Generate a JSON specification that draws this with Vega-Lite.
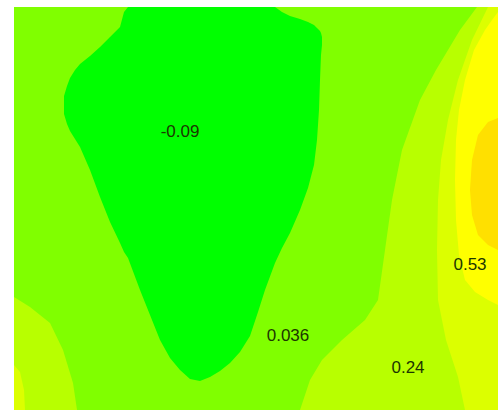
{
  "$schema": "https://vega.github.io/schema/vega-lite/v6.json",
  "width": 484,
  "height": 403,
  "autosize": "none",
  "padding": {"left": 14, "top": 7, "right": 0, "bottom": 5},
  "background": "white",
  "config": {"view": {"stroke": null}},
  "datasets": {
    "bg": [{"band": "b", "x": 0, "x2": 484, "y": 0, "y2": 403}],
    "c_right": [
      {"band": "c", "y": 403, "x": 463, "x2": 484},
      {"band": "c", "y": 380, "x": 446, "x2": 484},
      {"band": "c", "y": 360, "x": 434, "x2": 484},
      {"band": "c", "y": 340, "x": 422, "x2": 484},
      {"band": "c", "y": 310, "x": 406, "x2": 484},
      {"band": "c", "y": 260, "x": 388, "x2": 484},
      {"band": "c", "y": 210, "x": 378, "x2": 484},
      {"band": "c", "y": 160, "x": 371, "x2": 484},
      {"band": "c", "y": 110, "x": 364, "x2": 484},
      {"band": "c", "y": 90, "x": 351, "x2": 484},
      {"band": "c", "y": 70, "x": 328, "x2": 484},
      {"band": "c", "y": 50, "x": 308, "x2": 484},
      {"band": "c", "y": 30, "x": 296, "x2": 484},
      {"band": "c", "y": 0, "x": 286, "x2": 484}
    ],
    "c_left": [
      {"band": "c", "x": 0, "y": 113, "y2": 0},
      {"band": "c", "x": 16, "y": 103, "y2": 0},
      {"band": "c", "x": 36, "y": 87, "y2": 0},
      {"band": "c", "x": 49, "y": 60, "y2": 0},
      {"band": "c", "x": 59, "y": 27, "y2": 0},
      {"band": "c", "x": 63, "y": 0, "y2": 0}
    ],
    "d_left": [
      {"band": "d", "x": 0, "y": 45, "y2": 0},
      {"band": "d", "x": 6, "y": 38, "y2": 0},
      {"band": "d", "x": 10, "y": 20, "y2": 0},
      {"band": "d", "x": 11, "y": 0, "y2": 0}
    ],
    "d_right": [
      {"band": "d", "y": 403, "x": 474, "x2": 484},
      {"band": "d", "y": 370, "x": 458, "x2": 484},
      {"band": "d", "y": 330, "x": 444, "x2": 484},
      {"band": "d", "y": 290, "x": 434, "x2": 484},
      {"band": "d", "y": 250, "x": 427, "x2": 484},
      {"band": "d", "y": 210, "x": 424, "x2": 484},
      {"band": "d", "y": 160, "x": 423, "x2": 484},
      {"band": "d", "y": 110, "x": 424, "x2": 484},
      {"band": "d", "y": 70, "x": 432, "x2": 484},
      {"band": "d", "y": 33, "x": 444, "x2": 484},
      {"band": "d", "y": 0, "x": 451, "x2": 484}
    ],
    "e_right": [
      {"band": "e", "y": 398, "x": 484, "x2": 484},
      {"band": "e", "y": 390, "x": 478, "x2": 484},
      {"band": "e", "y": 380, "x": 471, "x2": 484},
      {"band": "e", "y": 360, "x": 460, "x2": 484},
      {"band": "e", "y": 330, "x": 451, "x2": 484},
      {"band": "e", "y": 300, "x": 445, "x2": 484},
      {"band": "e", "y": 270, "x": 442, "x2": 484},
      {"band": "e", "y": 230, "x": 441, "x2": 484},
      {"band": "e", "y": 190, "x": 442, "x2": 484},
      {"band": "e", "y": 155, "x": 445, "x2": 484},
      {"band": "e", "y": 130, "x": 451, "x2": 484},
      {"band": "e", "y": 118, "x": 461, "x2": 484},
      {"band": "e", "y": 110, "x": 474, "x2": 484},
      {"band": "e", "y": 105, "x": 484, "x2": 484}
    ],
    "f_core": [
      {"band": "f", "y": 292, "x": 484, "x2": 484},
      {"band": "f", "y": 288, "x": 474, "x2": 484},
      {"band": "f", "y": 275, "x": 464, "x2": 484},
      {"band": "f", "y": 250, "x": 458, "x2": 484},
      {"band": "f", "y": 220, "x": 456, "x2": 484},
      {"band": "f", "y": 195, "x": 458, "x2": 484},
      {"band": "f", "y": 175, "x": 464, "x2": 484},
      {"band": "f", "y": 165, "x": 474, "x2": 484},
      {"band": "f", "y": 160, "x": 484, "x2": 484}
    ],
    "a_blob": [
      {"band": "a", "x": 50, "y": 314, "y2": 296},
      {"band": "a", "x": 53, "y": 324, "y2": 286},
      {"band": "a", "x": 56, "y": 332, "y2": 279},
      {"band": "a", "x": 61, "y": 340, "y2": 271},
      {"band": "a", "x": 66, "y": 346, "y2": 263},
      {"band": "a", "x": 76, "y": 354, "y2": 240},
      {"band": "a", "x": 86, "y": 363, "y2": 213},
      {"band": "a", "x": 96, "y": 373, "y2": 188},
      {"band": "a", "x": 106, "y": 383, "y2": 167},
      {"band": "a", "x": 110, "y": 398, "y2": 158},
      {"band": "a", "x": 114, "y": 403, "y2": 152},
      {"band": "a", "x": 126, "y": 403, "y2": 120},
      {"band": "a", "x": 136, "y": 403, "y2": 95},
      {"band": "a", "x": 146, "y": 403, "y2": 70},
      {"band": "a", "x": 156, "y": 403, "y2": 52},
      {"band": "a", "x": 166, "y": 403, "y2": 40},
      {"band": "a", "x": 176, "y": 403, "y2": 31},
      {"band": "a", "x": 186, "y": 403, "y2": 29},
      {"band": "a", "x": 196, "y": 403, "y2": 33},
      {"band": "a", "x": 206, "y": 403, "y2": 39},
      {"band": "a", "x": 216, "y": 403, "y2": 47},
      {"band": "a", "x": 226, "y": 403, "y2": 58},
      {"band": "a", "x": 236, "y": 403, "y2": 74},
      {"band": "a", "x": 244, "y": 403, "y2": 98},
      {"band": "a", "x": 251, "y": 403, "y2": 120},
      {"band": "a", "x": 261, "y": 403, "y2": 147},
      {"band": "a", "x": 268, "y": 398, "y2": 162},
      {"band": "a", "x": 276, "y": 394, "y2": 177},
      {"band": "a", "x": 286, "y": 391, "y2": 200},
      {"band": "a", "x": 294, "y": 388, "y2": 222},
      {"band": "a", "x": 300, "y": 385, "y2": 245},
      {"band": "a", "x": 303, "y": 382, "y2": 270},
      {"band": "a", "x": 305, "y": 380, "y2": 300},
      {"band": "a", "x": 306, "y": 379, "y2": 330},
      {"band": "a", "x": 307, "y": 377, "y2": 355},
      {"band": "a", "x": 308, "y": 373, "y2": 365}
    ],
    "labels": [
      {"label": "-0.09", "x": 166, "y": 278},
      {"label": "0.036", "x": 274, "y": 74},
      {"label": "0.24", "x": 394, "y": 42},
      {"label": "0.53", "x": 456, "y": 145}
    ]
  },
  "layer": [
    {
      "data": {"name": "bg"},
      "mark": {"type": "rect"},
      "encoding": {
        "x": {"field": "x", "type": "quantitative", "axis": null, "scale": {"domain": [0, 484], "nice": false, "zero": false}},
        "x2": {"field": "x2"},
        "y": {"field": "y", "type": "quantitative", "axis": null, "scale": {"domain": [0, 403], "nice": false, "zero": false}},
        "y2": {"field": "y2"},
        "color": {"field": "band", "type": "nominal", "legend": null,
          "scale": {"domain": ["a", "b", "c", "d", "e", "f"], "range": ["#00ff00", "#80ff00", "#b8ff00", "#dcff00", "#ffff00", "#ffe000"]}}
      }
    },
    {
      "data": {"name": "c_right"},
      "mark": {"type": "area", "orient": "horizontal"},
      "encoding": {
        "y": {"field": "y", "type": "quantitative", "axis": null},
        "x": {"field": "x", "type": "quantitative", "axis": null},
        "x2": {"field": "x2"},
        "color": {"field": "band", "type": "nominal", "legend": null}
      }
    },
    {
      "data": {"name": "c_left"},
      "mark": {"type": "area", "orient": "vertical"},
      "encoding": {
        "x": {"field": "x", "type": "quantitative", "axis": null},
        "y": {"field": "y", "type": "quantitative", "axis": null},
        "y2": {"field": "y2"},
        "color": {"field": "band", "type": "nominal", "legend": null}
      }
    },
    {
      "data": {"name": "d_left"},
      "mark": {"type": "area", "orient": "vertical"},
      "encoding": {
        "x": {"field": "x", "type": "quantitative", "axis": null},
        "y": {"field": "y", "type": "quantitative", "axis": null},
        "y2": {"field": "y2"},
        "color": {"field": "band", "type": "nominal", "legend": null}
      }
    },
    {
      "data": {"name": "d_right"},
      "mark": {"type": "area", "orient": "horizontal"},
      "encoding": {
        "y": {"field": "y", "type": "quantitative", "axis": null},
        "x": {"field": "x", "type": "quantitative", "axis": null},
        "x2": {"field": "x2"},
        "color": {"field": "band", "type": "nominal", "legend": null}
      }
    },
    {
      "data": {"name": "e_right"},
      "mark": {"type": "area", "orient": "horizontal"},
      "encoding": {
        "y": {"field": "y", "type": "quantitative", "axis": null},
        "x": {"field": "x", "type": "quantitative", "axis": null},
        "x2": {"field": "x2"},
        "color": {"field": "band", "type": "nominal", "legend": null}
      }
    },
    {
      "data": {"name": "f_core"},
      "mark": {"type": "area", "orient": "horizontal"},
      "encoding": {
        "y": {"field": "y", "type": "quantitative", "axis": null},
        "x": {"field": "x", "type": "quantitative", "axis": null},
        "x2": {"field": "x2"},
        "color": {"field": "band", "type": "nominal", "legend": null}
      }
    },
    {
      "data": {"name": "a_blob"},
      "mark": {"type": "area", "orient": "vertical"},
      "encoding": {
        "x": {"field": "x", "type": "quantitative", "axis": null},
        "y": {"field": "y", "type": "quantitative", "axis": null},
        "y2": {"field": "y2"},
        "color": {"field": "band", "type": "nominal", "legend": null}
      }
    },
    {
      "data": {"name": "labels"},
      "mark": {"type": "text", "font": "Liberation Sans", "fontSize": 17, "color": "#1c3600", "align": "center", "baseline": "middle"},
      "encoding": {
        "x": {"field": "x", "type": "quantitative", "axis": null},
        "y": {"field": "y", "type": "quantitative", "axis": null},
        "text": {"field": "label", "type": "nominal"}
      }
    }
  ]
}
